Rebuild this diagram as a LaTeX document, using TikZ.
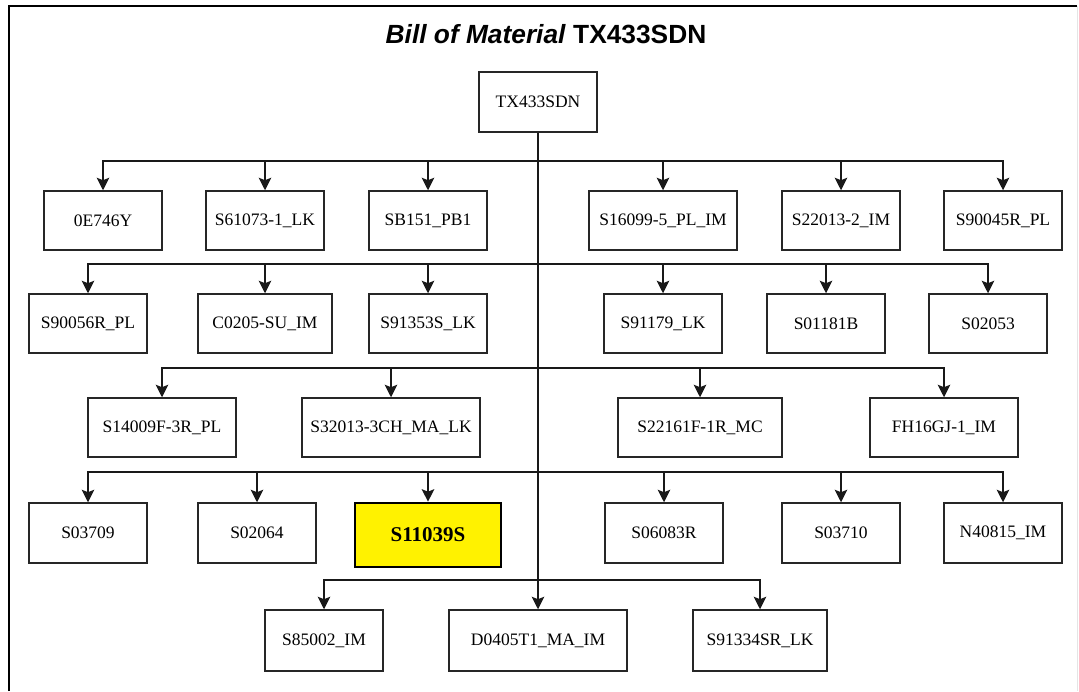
\documentclass[tikz,border=0pt]{standalone}
\usepackage{fontspec}
\setmainfont{Liberation Serif}
\newfontfamily\titlefont{Liberation Sans}
\usetikzlibrary{arrows.meta}
\begin{document}
\begin{tikzpicture}[x=1pt,y=-1pt,
  box/.style={draw=black!85,line width=1.5pt,fill=white,inner sep=0pt,minimum height=59pt,
    font=\fontsize{17.5}{20}\selectfont},
  hilite/.style={draw=black,line width=2.6pt,fill=yellow,inner sep=0pt,minimum height=64pt,
    font=\fontsize{21}{24}\selectfont\bfseries},
  conn/.style={draw=black!90,line width=1.5pt},
  arr/.style={conn,-{Stealth[length=12.5pt,width=12.5pt,inset=2.5pt]}}]
\useasboundingbox (0,0) rectangle (1079,691);
\fill[white] (0,0) rectangle (1079,691);
% frame
\draw[black!10,line width=1pt] (1077,6) -- (1077,691);
\draw[black,line width=2.6pt] (9,691) -- (9,6) -- (1077,6);
% title
\node[anchor=base,inner sep=0pt] (title) at (546,43) {\titlefont\fontsize{26.3}{30}\selectfont\textbf{\textit{Bill of Material} TX433SDN}};
% root
\node[box,minimum width=118pt,minimum height=60pt] (root) at (538,102) {TX433SDN};
% bus coordinates
\coordinate (b1) at (538,161);
\coordinate (b2) at (538,264);
\coordinate (b3) at (538,368);
\coordinate (b4) at (538,472);
\coordinate (b5) at (538,580);
% row 1
\node[box,minimum width=118pt] (r11) at (103,220.5) {0E746Y};
\node[box,minimum width=118pt] (r12) at (265,220.5) {S61073-1\_LK};
\node[box,minimum width=118pt] (r13) at (428,220.5) {SB151\_PB1};
\node[box,minimum width=148pt] (r14) at (663,220.5) {S16099-5\_PL\_IM};
\node[box,minimum width=118pt] (r15) at (841,220.5) {S22013-2\_IM};
\node[box,minimum width=118pt] (r16) at (1003,220.5) {S90045R\_PL};
% row 2
\node[box,minimum width=118pt] (r21) at (88,323.5) {S90056R\_PL};
\node[box,minimum width=134pt] (r22) at (265,323.5) {C0205-SU\_IM};
\node[box,minimum width=118pt] (r23) at (428,323.5) {S91353S\_LK};
\node[box,minimum width=118pt] (r24) at (663,323.5) {S91179\_LK};
\node[box,minimum width=118pt] (r25) at (826,323.5) {S01181B};
\node[box,minimum width=118pt] (r26) at (988,323.5) {S02053};
% row 3
\node[box,minimum width=148pt] (r31) at (162,427.5) {S14009F-3R\_PL};
\node[box,minimum width=178pt] (r32) at (391,427.5) {S32013-3CH\_MA\_LK};
\node[box,minimum width=164pt] (r33) at (700,427.5) {S22161F-1R\_MC};
\node[box,minimum width=148pt] (r34) at (944,427.5) {FH16GJ-1\_IM};
% row 4
\node[box,minimum width=118pt,minimum height=60pt] (r41) at (88,533) {S03709};
\node[box,minimum width=118pt,minimum height=60pt] (r42) at (257,533) {S02064};
\node[hilite,minimum width=146pt] (r43) at (428,535) {S11039S};
\node[box,minimum width=118pt,minimum height=60pt] (r44) at (664,533) {S06083R};
\node[box,minimum width=118pt,minimum height=60pt] (r45) at (841,533) {S03710};
\node[box,minimum width=118pt,minimum height=60pt] (r46) at (1003,533) {N40815\_IM};
% row 5
\node[box,minimum width=118pt,minimum height=61pt] (r51) at (324,640.5) {S85002\_IM};
\node[box,minimum width=178pt,minimum height=61pt] (r52) at (538,640.5) {D0405T1\_MA\_IM};
\node[box,minimum width=134pt,minimum height=61pt] (r53) at (760,640.5) {S91334SR\_LK};
% trunk
\draw[arr] (root.south) -- (r52.north);
% connectors
\foreach \c in {r11,r12,r13,r14,r15,r16} {\draw[arr] (b1) -| (\c.north);}
\foreach \c in {r21,r22,r23,r24,r25,r26} {\draw[arr] (b2) -| (\c.north);}
\foreach \c in {r31,r32,r33,r34} {\draw[arr] (b3) -| (\c.north);}
\foreach \c in {r41,r42,r43,r44,r45,r46} {\draw[arr] (b4) -| (\c.north);}
\foreach \c in {r51,r53} {\draw[arr] (b5) -| (\c.north);}
\end{tikzpicture}
\end{document}
